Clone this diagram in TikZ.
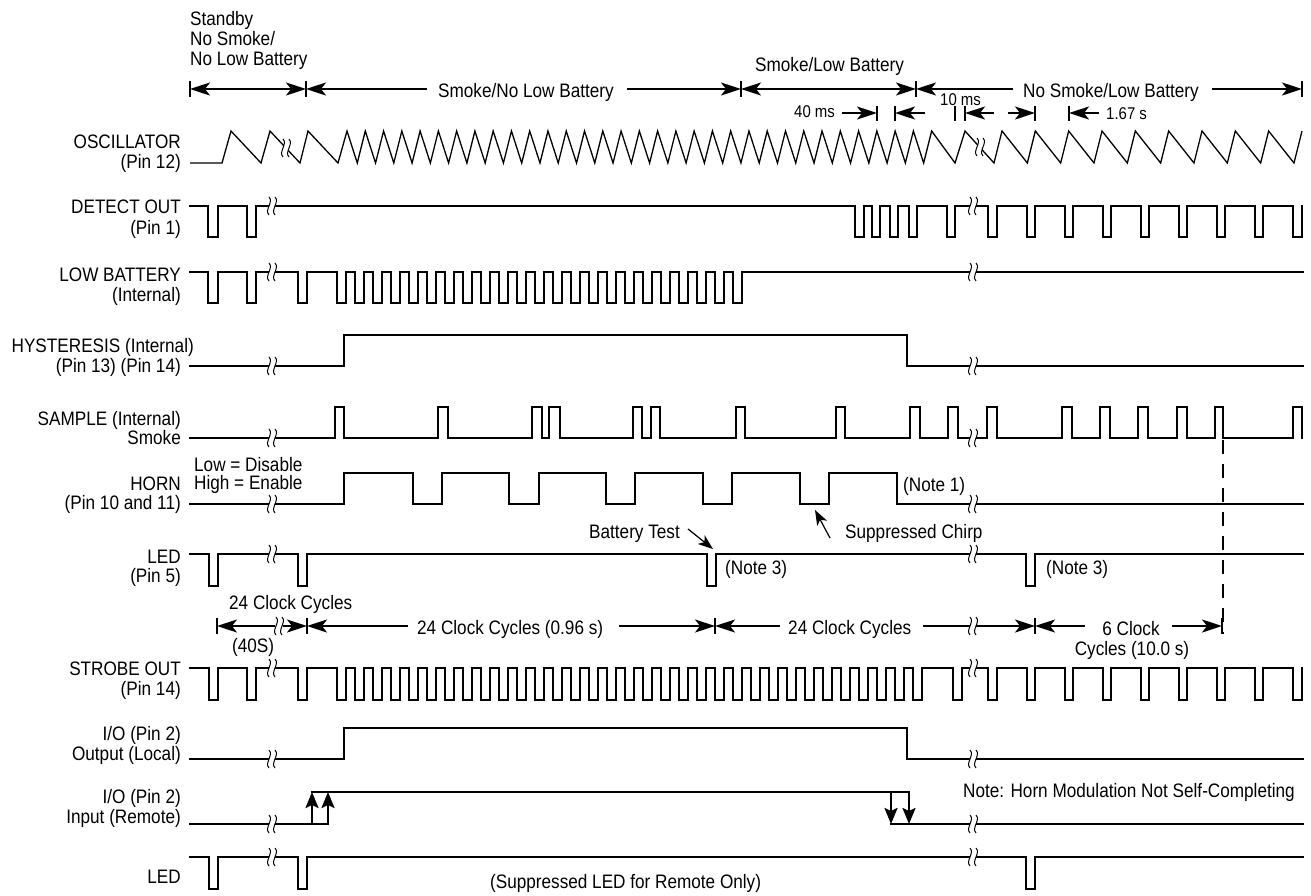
\documentclass[tikz,border=0pt]{standalone}
\usepackage{fontspec}
\setmainfont{Liberation Sans}[FakeStretch=0.88]
\usetikzlibrary{arrows.meta}
\newcommand\brkmark[2]{%
  \fill[white] ({#1-3},{#2-9}) .. controls ({#1+2},{#2-4}) and ({#1-8},{#2+4}) .. ({#1-3},{#2+9}) -- ({#1+3},{#2+9}) .. controls ({#1-2},{#2+4}) and ({#1+8},{#2-4}) .. ({#1+3},{#2-9}) -- cycle;
  \draw[line width=1pt] ({#1-3},{#2-9}) .. controls ({#1+2},{#2-4}) and ({#1-8},{#2+4}) .. ({#1-3},{#2+9});
  \draw[line width=1pt] ({#1+3},{#2-9}) .. controls ({#1+8},{#2-4}) and ({#1-2},{#2+4}) .. ({#1+3},{#2+9});
}
\begin{document}
\begin{tikzpicture}[x=1pt,y=-1pt,
  sig/.style={line width=2.3pt,line join=miter,line cap=rect},
  osc/.style={line width=1.3pt,line join=miter},
  thinl/.style={line width=1.2pt},
  dim/.style={line width=2pt},
  arr/.style={-{Stealth[length=20pt,width=13pt,inset=5pt]}},
  darr/.style={{Stealth[length=20pt,width=13pt,inset=5pt]}-{Stealth[length=20pt,width=13pt,inset=5pt]}},
  sarr/.style={-{Stealth[length=15pt,width=11pt,inset=4pt]}},
  varr/.style={-{Stealth[length=16pt,width=13pt,inset=3pt]}},
  tick/.style={line width=1.6pt},
  lbl/.style={anchor=base east,inner sep=0pt,font=\fontsize{19.5}{20}\selectfont},
  txt/.style={anchor=base west,inner sep=0pt,font=\fontsize{19.5}{20}\selectfont},
  ctxt/.style={anchor=base,inner sep=0pt,font=\fontsize{19.5}{20}\selectfont},
  stxt/.style={anchor=base west,inner sep=0pt,font=\fontsize{17}{18}\selectfont},
]
\useasboundingbox (0,0) rectangle (1311,895);
\fill[white] (0,0) rectangle (1311,895);

% ---------- header ----------
\node[txt] (hs1) at (190,25) {Standby};
\node[txt] (hs2) at (190,45) {No Smoke/};
\node[txt] (hs3) at (190,65) {No Low Battery};
\node[txt] (hsn) at (438,97) {Smoke/No Low Battery};
\node[txt] (hsl) at (755,71) {Smoke/Low Battery};
\node[txt] (hnl) at (1023,97) {No Smoke/Low Battery};
\foreach \x in {190,306,741,916,1302} \draw[tick] (\x,81) -- (\x,97);
\draw[dim,darr] (190,89) -- (306,89);
\draw[dim,arr] (427,89) -- (306,89);
\draw[dim,arr] (627,89) -- (741,89);
\draw[thinl,darr] (741,89) -- (916,89);
\draw[dim,arr] (1013,89) -- (916,89);
\draw[dim,arr] (1212,89) -- (1302,89);
% small dims
\node[stxt] (t40) at (794,117) {40 ms};
\node[stxt] (t10) at (940,105) {10 ms};
\node[stxt] (t167) at (1106,119) {1.67 s};
\foreach \x in {877,895,955,965,1035,1069} \draw[tick] (\x,106) -- (\x,121);
\draw[dim,arr] (842,113) -- (877,113);
\draw[dim,arr] (925,113) -- (895,113);
\draw[dim,arr] (994,113) -- (965,113);
\draw[dim,arr] (1008,113) -- (1035,113);
\draw[dim,arr] (1099,113) -- (1069,113);

% ---------- labels ----------
\node[lbl] (l1a) at (181,148) {OSCILLATOR};
\node[lbl] (l1b) at (181,168) {(Pin 12)};
\node[lbl] (l2a) at (181,213) {DETECT OUT};
\node[lbl] (l2b) at (181,234) {(Pin 1)};
\node[lbl] (l3a) at (181,281) {LOW BATTERY};
\node[lbl] (l3b) at (181,301) {(Internal)};
\node[lbl] (l4a) at (194,352) {HYSTERESIS (Internal)};
\node[lbl] (l4b) at (181,372) {(Pin 13) (Pin 14)};
\node[lbl] (l5a) at (181,425) {SAMPLE (Internal)};
\node[lbl] (l5b) at (181,444) {Smoke};
\node[lbl] (l6a) at (181,490) {HORN};
\node[lbl] (l6b) at (181,509) {(Pin 10 and 11)};
\node[lbl] (l7a) at (181,563) {LED};
\node[lbl] (l7b) at (181,582) {(Pin 5)};
\node[lbl] (l8a) at (181,675) {STROBE OUT};
\node[lbl] (l8b) at (181,695) {(Pin 14)};
\node[lbl] (l9a) at (181,740) {I/O (Pin 2)};
\node[lbl] (l9b) at (181,760) {Output (Local)};
\node[lbl] (l10a) at (181,803) {I/O (Pin 2)};
\node[lbl] (l10b) at (181,823) {Input (Remote)};
\node[lbl] (l11a) at (181,883) {LED};

% ---------- oscillator ----------
\draw[osc] (190,163) -- (222,163) -- (231,131) -- (261,163) -- (270,131) -- (300,163) -- (308,131) -- (338,163) -- (347,131)
  \foreach \k in {1,...,32} { -- ({347+18.27*\k-8},163) -- ({347+18.27*\k},131) }
  -- (955,163) -- (965,131) -- (994,163)
  \foreach \k in {0,...,9} { -- ({1002+33.33*\k-8},163) -- ({1002+33.33*\k},131) };

% ---------- DETECT OUT ----------
\draw[sig] (190,206)
  \foreach \a/\b in {208/218,247/256,855/864,872/880,890/898,909/917,947/955,988/997,1027/1035,1065/1073,1103/1111,1141/1149,1179/1187,1217/1225,1255/1263,1293/1302}
  { -- (\a,206) -- (\a,237) -- (\b,237) -- (\b,206) };

% ---------- LOW BATTERY ----------
\draw[sig] (190,272)
  \foreach \a/\b in {208/218,247/256,298/307} { -- (\a,272) -- (\a,303) -- (\b,303) -- (\b,272) }
  \foreach \k in {0,...,22} { -- ({337+18*\k},272) -- ({337+18*\k},303) -- ({346+18*\k},303) -- ({346+18*\k},272) }
  -- (1303,272);

% ---------- HYSTERESIS ----------
\draw[sig] (190,366) -- (344,366) -- (344,335) -- (907,335) -- (907,366) -- (1303,366);

% ---------- SAMPLE ----------
\draw[sig] (190,438)
  \foreach \a/\b in {335/344,438/448,532/542,549/560,633/642,651/660,736/745,836/845,910/920,948/958,987/997,1062/1072,1100/1110,1138/1148,1177/1187,1215/1223,1293/1302}
  { -- (\a,438) -- (\a,407) -- (\b,407) -- (\b,438) };
\draw[line width=2.6pt,dash pattern=on 14pt off 10pt] (1223,440) -- (1223,634);

% ---------- HORN ----------
\node[txt] (hl) at (194,471) {Low = Disable};
\node[txt] (hh) at (194,489) {High = Enable};
\draw[sig] (190,504) -- (344,504) -- (344,473) -- (413,473) -- (413,504) -- (442,504) -- (442,473) -- (509,473) -- (509,504) -- (539,504) -- (539,473) -- (606,473) -- (606,504) -- (635,504) -- (635,473) -- (703,473) -- (703,504) -- (732,504) -- (732,473) -- (800,473) -- (800,504) -- (829,504) -- (829,473) -- (897,473) -- (897,504) -- (1303,504);
\node[txt] (n1) at (903,491) {(Note 1)};

% ---------- LED pin 5 ----------
\draw[sig] (190,554)
  \foreach \a/\b in {209/218,298/307,707/716,1026/1035} { -- (\a,554) -- (\a,586) -- (\b,586) -- (\b,554) }
  -- (1303,554);
\node[txt] (bt) at (589,538) {Battery Test};
\draw[thinl,sarr] (688,529) -- (713,549);
\node[txt] (sc) at (845,538) {Suppressed Chirp};
\draw[thinl,sarr] (830,538) -- (815,510);
\node[txt] (n3a) at (725,574) {(Note 3)};
\node[txt] (n3b) at (1046,574) {(Note 3)};

% ---------- timing row ----------
\node[txt] (c24a) at (229,609) {24 Clock Cycles};
\node[txt] (c40) at (232,652) {(40S)};
\node[txt] (c24b) at (417,634) {24 Clock Cycles (0.96 s)};
\node[txt] (c24c) at (788,634) {24 Clock Cycles};
\node[ctxt] (c6a) at (1131,635) {6 Clock};
\node[ctxt] (c6b) at (1132,655) {Cycles (10.0 s)};
\foreach \x in {217,307,715,1035,1222} \draw[tick] (\x,618) -- (\x,634);
\draw[thinl,arr] (275,626) -- (217,626);
\draw[dim,arr] (283,626) -- (307,626);
\draw[dim,arr] (408,626) -- (307,626);
\draw[thinl,arr] (619,626) -- (715,626);
\draw[dim,arr] (780,626) -- (715,626);
\draw[dim,arr] (923,626) -- (1035,626);
\draw[dim,arr] (1085,626) -- (1035,626);
\draw[dim,arr] (1172,626) -- (1222,626);

% ---------- STROBE OUT ----------
\draw[sig] (190,668)
  \foreach \a/\b in {209/218,247/256,298/307} { -- (\a,668) -- (\a,700) -- (\b,700) -- (\b,668) }
  \foreach \k in {0,...,32} { -- ({337+18*\k},668) -- ({337+18*\k},700) -- ({346+18*\k},700) -- ({346+18*\k},668) }
  \foreach \a/\b in {953/962,988/997,1027/1035,1065/1073,1103/1111,1141/1149,1179/1187,1217/1225,1255/1263,1293/1302}
  { -- (\a,668) -- (\a,700) -- (\b,700) -- (\b,668) };

% ---------- I/O output ----------
\draw[sig] (190,759) -- (344,759) -- (344,728) -- (907,728) -- (907,759) -- (1303,759);

% ---------- I/O input ----------
\draw[sig] (190,824) -- (328,824);
\draw[sig] (312,792) -- (909,792);
\draw[sig] (891,824) -- (1303,824);
\draw[sig,line cap=butt,varr] (312,824) -- (312,792);
\draw[sig,line cap=butt,varr] (328,824) -- (328,792);
\draw[sig,line cap=butt,varr] (891,792) -- (891,824);
\draw[sig,line cap=butt,varr] (909,792) -- (909,824);
\node[txt] (nt) at (963,797) {Note: Horn Modulation Not Self-Completing};

% ---------- LED last ----------
\draw[sig] (190,857)
  \foreach \a/\b in {209/218,298/307,1026/1035} { -- (\a,857) -- (\a,889) -- (\b,889) -- (\b,857) }
  -- (1303,857);
\node[txt] (sl) at (490,888) {(Suppressed LED for Remote Only)};

% ---------- break marks ----------
\brkmark{286}{148}
\brkmark{980}{147}
\foreach \y in {206,272,366,438,504,554,668,759,824,857} { \brkmark{272}{\y} \brkmark{973}{\y} }
\brkmark{279}{626}
\brkmark{973}{626}
\end{tikzpicture}
\end{document}
